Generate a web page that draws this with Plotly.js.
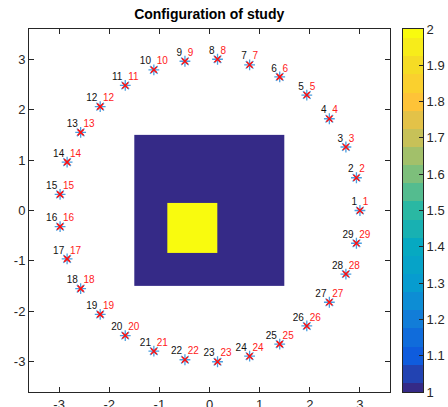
<!DOCTYPE html>
<html>
<head>
<meta charset="utf-8">
<script src="https://cdn.plot.ly/plotly-3.0.1.min.js"></script>
<style>html,body{margin:0;padding:0;background:#fff}#chart{width:448px;height:407px}</style>
</head>
<body>
<div id="chart"></div>
<script>
// Sensor positions
const sensorX = [3.00, 2.93, 2.72, 2.39, 1.94, 1.40, 0.80, 0.16, -0.49, -1.11, -1.68, -2.18, -2.57, -2.84, -2.98,
                 -2.98, -2.84, -2.57, -2.18, -1.68, -1.11, -0.49, 0.16, 0.80, 1.40, 1.94, 2.39, 2.72, 2.93];
const sensorY = [0.00, 0.65, 1.26, 1.82, 2.29, 2.65, 2.89, 3.00, 2.96, 2.79, 2.48, 2.06, 1.55, 0.96, 0.32,
                 -0.32, -0.96, -1.55, -2.06, -2.48, -2.79, -2.96, -3.00, -2.89, -2.65, -2.29, -1.82, -1.26, -0.65];
const sensorLabels = ['1','2','3','4','5','6','7','8','9','10','11','12','13','14','15','16','17','18','19','20',
                      '21','22','23','24','25','26','27','28','29'];

// Image (medium) cell edges and values
const imgXEdges = [-1.5, -0.85, 0.15, 1.5];
const imgYEdges = [-1.5, -0.85, 0.15, 1.5];
const imgZ = [[1, 1, 1],
              [1, 2, 1],
              [1, 1, 1]];

const tickVals = [-3, -2, -1, 0, 1, 2, 3];

// Colour scale bar (value range 1..2), drawn as a column of bands
const cbRange = [1, 2];
const cbLevels = [1, 1.05, 1.1, 1.15, 1.2, 1.25, 1.3, 1.35, 1.4, 1.45, 1.5,
                  1.55, 1.6, 1.65, 1.7, 1.75, 1.8, 1.85, 1.9, 1.95, 2];
const cbTicks = [1, 1.1, 1.2, 1.3, 1.4, 1.5, 1.6, 1.7, 1.8, 1.9, 2];

const parula = [
  [0.0, 'rgb(53,42,135)'],
  [0.1, 'rgb(15,92,221)'],
  [0.2, 'rgb(18,125,216)'],
  [0.3, 'rgb(7,156,207)'],
  [0.4, 'rgb(6,169,193)'],
  [0.5, 'rgb(42,184,163)'],
  [0.6, 'rgb(125,191,123)'],
  [0.7, 'rgb(199,193,88)'],
  [0.8, 'rgb(254,195,56)'],
  [0.9, 'rgb(245,220,37)'],
  [1.0, 'rgb(249,251,14)']
];

const fam = 'Liberation Sans, Arial, sans-serif';
const font = {family: fam, size: 13, color: '#262626'};

const traces = [
  {
    type: 'heatmap', x: imgXEdges, y: imgYEdges, z: imgZ,
    zmin: 1, zmax: 2, colorscale: parula, showscale: false, hoverinfo: 'skip'
  },
  {
    type: 'scatter', mode: 'markers', x: sensorX, y: sensorY,
    marker: {symbol: 'asterisk-open', size: 9, line: {color: '#4a9fe0', width: 1.3}, color: '#4a9fe0'},
    cliponaxis: false, hoverinfo: 'skip'
  },
  {
    type: 'scatter', mode: 'markers', x: sensorX, y: sensorY,
    marker: {symbol: 'x-thin-open', size: 6, line: {color: '#ff1010', width: 1.5}, color: '#ff1010'},
    cliponaxis: false, hoverinfo: 'skip'
  },
  {
    type: 'scatter', mode: 'markers+text', x: sensorX, y: sensorY, text: sensorLabels,
    textposition: 'top left', textfont: {family: fam, size: 10, color: '#111'},
    marker: {size: 3, color: 'rgba(0,0,0,0)', line: {width: 0}}, cliponaxis: false, hoverinfo: 'skip'
  },
  {
    type: 'scatter', mode: 'markers+text', x: sensorX, y: sensorY, text: sensorLabels,
    textposition: 'top right', textfont: {family: fam, size: 10, color: '#ff2020'},
    marker: {size: 3, color: 'rgba(0,0,0,0)', line: {width: 0}}, cliponaxis: false, hoverinfo: 'skip'
  },
  {
    type: 'heatmap', x: [0.5], y: cbLevels, z: cbLevels.map(v => [v]),
    zmin: 1, zmax: 2, colorscale: parula, showscale: false, hoverinfo: 'skip',
    xaxis: 'x2', yaxis: 'y2'
  }
];

const axisCommon = {
  range: [-3.6, 3.6], tickvals: tickVals, ticktext: tickVals.map(String), ticks: 'inside', ticklen: 5,
  tickcolor: '#262626', showline: true, linecolor: '#262626', linewidth: 1, mirror: 'ticks',
  showgrid: false, zeroline: false, tickfont: font
};

const layout = {
  width: 448, height: 407,
  margin: {l: 29, r: 25, t: 29, b: 15, autoexpand: false},
  paper_bgcolor: '#fff', plot_bgcolor: '#fff',
  showlegend: false,
  title: {text: '<b>Configuration of study</b>', x: 0.467, xanchor: 'center', y: 0.965, yanchor: 'middle',
          font: {family: fam, size: 14, color: '#000'}},
  xaxis: Object.assign({}, axisCommon, {domain: [0, 0.9163], anchor: 'y'}),
  yaxis: Object.assign({}, axisCommon, {domain: [0, 1], anchor: 'x'}),
  xaxis2: {domain: [0.9492, 1], anchor: 'y2', range: [0, 1], showticklabels: false, ticks: '',
           showline: true, linecolor: '#262626', linewidth: 1, mirror: true, showgrid: false, zeroline: false},
  yaxis2: {domain: [0, 1], anchor: 'x2', side: 'right', range: cbRange, tickvals: cbTicks,
           ticktext: cbTicks.map(String), ticks: 'inside', ticklen: 4, tickcolor: '#262626',
           showline: true, linecolor: '#262626', linewidth: 1, mirror: true, showgrid: false, zeroline: false,
           tickfont: font}
};

Plotly.newPlot('chart', traces, layout, {displayModeBar: false, staticPlot: true});
</script>
</body>
</html>
